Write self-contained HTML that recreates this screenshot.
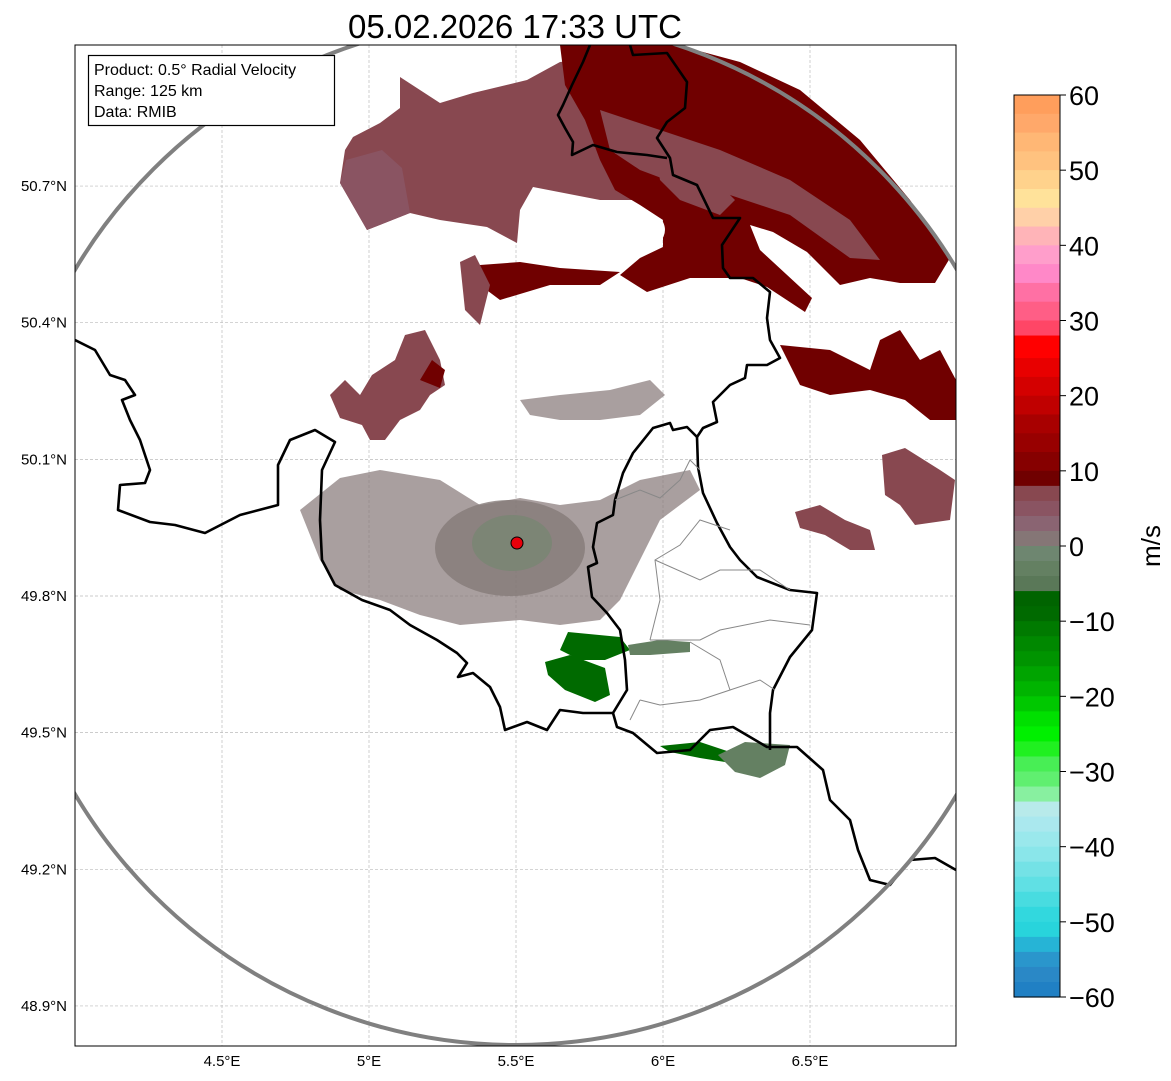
<!DOCTYPE html>
<html><head><meta charset="utf-8"><style>
html,body{margin:0;padding:0;background:#fff;}
svg{display:block;font-family:"Liberation Sans",sans-serif;}
</style></head><body>
<svg id="chart" width="1171" height="1081" viewBox="0 0 1171 1081" xmlns="http://www.w3.org/2000/svg">
<defs><clipPath id="mapclip"><rect x="75" y="45" width="881" height="1001"/></clipPath></defs>
<rect width="1171" height="1081" fill="#fff"/>
<text x="515" y="38" font-size="33" text-anchor="middle" fill="#000">05.02.2026 17:33 UTC</text>
<g id="grid" clip-path="url(#mapclip)"></g>
<g id="echoes" clip-path="url(#mapclip)"></g>
<g id="borders" clip-path="url(#mapclip)"></g>
<circle cx="516" cy="532" r="513" fill="none" stroke="#808080" stroke-width="4" clip-path="url(#mapclip)"/>
<circle cx="517" cy="543" r="6" fill="#e8000b" stroke="#000" stroke-width="1"/>
<rect x="75" y="45" width="881" height="1001" fill="none" stroke="#000" stroke-width="1"/>
<g id="axes"></g>
<g>
<rect x="88.5" y="55.5" width="246" height="70" fill="#fff" stroke="#000" stroke-width="1.2"/>
<text x="94" y="75" font-size="16">Product: 0.5° Radial Velocity</text>
<text x="94" y="96" font-size="16">Range: 125 km</text>
<text x="94" y="117" font-size="16">Data: RMIB</text>
</g>
<g id="cbar"></g>
<text transform="translate(1160,546) rotate(-90)" font-size="26" text-anchor="middle">m/s</text>
</svg>
<script>
const NS="http://www.w3.org/2000/svg";
// ---- axis data ----
const lonTicks=[4.5,5,5.5,6,6.5];
const lonLabels=["4.5°E","5°E","5.5°E","6°E","6.5°E"];
const latTicks=[50.7,50.4,50.1,49.8,49.5,49.2,48.9];
const latLabels=["50.7°N","50.4°N","50.1°N","49.8°N","49.5°N","49.2°N","48.9°N"];
const cbarTicks=[60,50,40,30,20,10,0,-10,-20,-30,-40,-50,-60];
const cbarLabels=["60","50","40","30","20","10","0","\u221210","\u221220","\u221230","\u221240","\u221250","\u221260"];
// colormap: band upper bounds (m/s) and colours
const cmapBounds=[60,57.5,55,52.5,50,47.5,45,42.5,40,37.5,35,32.5,30,28,25,22.5,20,17.5,15,12.5,10,8,6,4,2,0,-2,-4,-6,-8,-10,-12,-14,-16,-18,-20,-22,-24,-26,-28,-30,-32,-34,-36,-38,-40,-42,-44,-46,-48,-50,-52,-54,-56,-58];
const cmapColors=["#ff9e5c","#ffa86a","#ffb775","#ffc27f","#ffd28c","#ffe29a","#ffd0a8","#ffb4b8","#ff9ecb","#ff88c8","#ff70a4","#ff5e86","#ff4666","#ff0000","#e80000","#d40000","#c00000","#a80000","#980000","#860000","#700000","#884850","#8a5462","#8a6472","#857676","#6e8670","#648062","#5a7858","#006400","#006a00","#007a00","#008800","#009400","#00a400","#00b400","#00c800","#00e000","#00f000","#20f020","#48ee55","#60ef70","#88f0a0","#b8eaea","#aae8ee","#9ae8ec","#8ae6ea","#74e2e6","#60e0e4","#48dce0","#32d8de","#28d4dc","#26b4d6","#2a96cc","#2a88c6","#2080c4"];
// radar echo regions (screen space shapes), with representative radial velocity (m/s)
const echoPolyVel=[7,5,9,7,7,9,6,6,9,1,1,-9,-9,-3,-9,-3,6,7,9];
const echoPolys=[
 [[400,77],[440,103],[473,93],[527,80],[560,62],[600,58],[620,72],[640,130],[650,200],[600,200],[533,187],[520,210],[517,243],[487,227],[440,220],[410,213],[367,230],[340,183],[345,150],[353,137],[380,123],[400,108]],
 [[340,183],[346,160],[382,150],[402,168],[410,213],[367,230]],
 [[560,45],[677,45],[740,62],[800,90],[860,140],[910,200],[950,258],[935,283],[900,283],[870,278],[840,285],[807,252],[773,232],[750,225],[760,250],[812,298],[805,312],[767,287],[740,278],[690,278],[647,292],[620,275],[640,258],[663,247],[663,220],[640,205],[615,190],[600,160],[585,120],[565,85]],
 [[600,110],[660,130],[720,150],[790,180],[850,220],[880,260],[850,258],[790,215],[730,195],[680,185],[640,170],[610,150]],
 [[655,150],[700,165],[735,200],[720,215],[680,200],[660,180]],
 [[480,265],[520,262],[560,268],[620,272],[600,285],[550,285],[500,300],[480,285]],
 [[460,262],[475,255],[490,285],[480,325],[465,310]],
 [[330,395],[345,380],[360,395],[372,375],[395,360],[405,335],[425,330],[440,360],[445,385],[430,395],[420,410],[400,420],[385,440],[370,440],[362,425],[340,418]],
 [[420,380],[432,360],[445,370],[440,388]],
 [[300,510],[340,478],[380,470],[440,480],[480,505],[520,498],[560,505],[600,500],[640,480],[690,470],[700,490],[660,520],[640,560],[620,600],[600,620],[560,625],[520,620],[460,625],[420,615],[380,600],[340,590],[320,560]],
 [[520,400],[560,395],[610,390],[650,380],[665,395],[640,415],[600,420],[560,420],[530,415]],
 [[568,632],[620,637],[630,650],[605,660],[580,660],[560,650]],
 [[545,662],[570,655],[605,668],[610,695],[595,702],[565,690],[548,675]],
 [[628,645],[660,640],[690,642],[690,652],[650,655],[630,655]],
 [[660,746],[700,742],[730,752],[725,762],[700,758],[670,752]],
 [[718,755],[745,742],[790,745],[785,765],[760,778],[735,772]],
 [[795,512],[820,505],[845,520],[870,530],[875,550],[850,550],[825,535],[800,528]],
 [[882,455],[905,448],[940,470],[955,480],[950,520],[915,525],[900,505],[885,495]],
 [[780,345],[830,350],[870,370],[880,340],[900,330],[920,360],[940,350],[956,380],[956,420],[930,420],[905,400],[870,390],[830,395],[800,385],[790,365]]
];
// ---- scales ----
const px=lon=>516+(lon-5.5)*294;
const py=lat=>596-(lat-49.8)*455.5;
const cbTop=95, cbBot=997, cbX=1014, cbW=46;
const cy=v=>cbTop+(60-v)/120*(cbBot-cbTop);
function velColor(v){for(let i=cmapBounds.length-1;i>=0;i--){if(v<cmapBounds[i]&&(i===cmapBounds.length-1||v>=cmapBounds[i+1]))return cmapColors[i];}return v>=60?cmapColors[0]:cmapColors[cmapColors.length-1];}
function mk(t,a,p){const e=document.createElementNS(NS,t);for(const k in a)e.setAttribute(k,a[k]);p.appendChild(e);return e;}
// grid
const grid=document.getElementById('grid');
lonTicks.forEach(l=>{const e=mk('line',{x1:px(l),x2:px(l),y1:45,y2:1046,stroke:'#bbb','stroke-width':0.7,'stroke-dasharray':'3,2'},grid);

});
latTicks.forEach(l=>{const e=mk('line',{x1:75,x2:956,y1:py(l),y2:py(l),stroke:'#bbb','stroke-width':0.7,'stroke-dasharray':'3,2'},grid);

});
// axes labels
const axes=document.getElementById('axes');
lonTicks.forEach((l,i)=>{const t=mk('text',{x:px(l),y:1066,'font-size':15,'text-anchor':'middle'},axes);t.textContent=lonLabels[i];

});
latTicks.forEach((l,i)=>{const t=mk('text',{x:67,y:py(l)+5,'font-size':15,'text-anchor':'end'},axes);t.textContent=latLabels[i];

});
// echoes
const eg=document.getElementById('echoes');
echoPolys.forEach((poly,i)=>{const e=mk('polygon',{points:poly.map(p=>p.join(',')).join(' '),fill:velColor(echoPolyVel[i]),opacity:(i===9||i===10)?0.7:1},eg);

});
const cl=mk('ellipse',{cx:510,cy:548,rx:75,ry:48,fill:'#857a78',opacity:0.8},eg);


const cl2=mk('ellipse',{cx:512,cy:543,rx:40,ry:28,fill:'#7c8575'},eg);


const hole=mk('path',{d:'M533,190 Q600,200 663,222 Q672,240 640,257 Q570,252 525,230 Z',fill:'#fff'},eg);


// borders
const bg=document.getElementById('borders');
const blackLines=[
"M75,340 L95,350 110,375 125,380 135,395 122,400 130,420 140,440 150,470 145,483 120,485 118,510 150,522 175,525 205,533 240,515 278,505 278,465 290,440 315,430 335,442 322,470 320,520 322,560 335,585 362,600 390,610 410,625 437,640 457,653 467,663 458,677 473,673 490,687 500,707 505,730 527,722 547,730 560,710 583,713 613,713 617,727 633,733 657,753 690,750 710,730 733,727 767,747 797,747 823,770 830,800 850,820 858,850 870,880 890,885 910,860 935,858 956,870",
"M613,713 L627,690 625,660 620,630 607,613 592,597 588,567 597,563 593,547 597,523 613,515 615,500 623,473 633,453 653,428 670,423 673,430 687,427 697,437 703,428 717,422 713,402 730,385 745,378 747,365 767,365 780,358 770,340 767,318 770,292 753,278 730,278 723,268 722,245 740,218 713,218 697,185 673,175 670,158 657,138 667,122 685,108 687,82 667,53 633,55 630,45",
"M697,437 L698,467 703,493 717,523 730,547 740,560 757,577 790,590 817,593 812,630 790,657 773,690 770,713 770,750",
"M590,45 L583,62 572,85 563,105 558,115 565,128 573,142 572,155 593,145 617,152 647,155 667,158"
];
blackLines.forEach(d=>{const e=mk('path',{d:d,fill:'none',stroke:'#000','stroke-width':2.6,'stroke-linejoin':'round'},bg);

});
const grayLines=[
"M615,500 L640,490 660,498 680,480 690,460 700,470",
"M650,640 L660,600 655,560 680,545 700,520 730,530",
"M655,560 L700,580 720,570 760,570 790,590",
"M650,640 L700,640 720,630 770,620 810,625",
"M690,642 L720,660 730,690 700,700 660,705 640,700",
"M730,690 L760,680 775,690",
"M640,700 L630,720"
];
grayLines.forEach(d=>{const e=mk('path',{d:d,fill:'none',stroke:'#888','stroke-width':1},bg);

});
// colorbar
const cb=document.getElementById('cbar');
cmapBounds.forEach((b,i)=>{const lo=i+1<cmapBounds.length?cmapBounds[i+1]:-60;const r=mk('rect',{x:cbX,y:cy(b),width:cbW,height:cy(lo)-cy(b)+0.6,fill:cmapColors[i]},cb);

});
mk('rect',{x:cbX,y:cbTop,width:cbW,height:cbBot-cbTop,fill:'none',stroke:'#000','stroke-width':1},cb);
cbarTicks.forEach((v,i)=>{mk('line',{x1:cbX+cbW,x2:cbX+cbW+6,y1:cy(v),y2:cy(v),stroke:'#000','stroke-width':1},cb);
const t=mk('text',{x:cbX+cbW+9,y:cy(v)+10,'font-size':27},cb);t.textContent=cbarLabels[i];

});
</script>
</body></html>
